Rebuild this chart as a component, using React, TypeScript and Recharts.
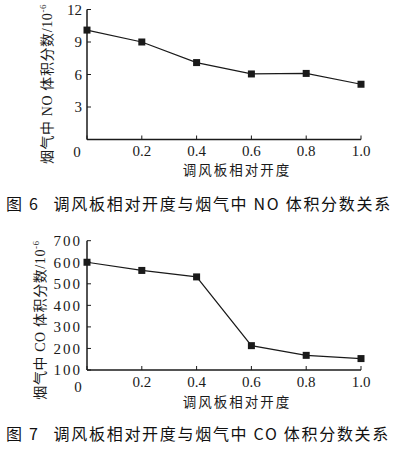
import React from "react";
import { LineChart, Line, XAxis, YAxis } from "recharts";

const openings = [0, 0.2, 0.4, 0.6, 0.8, 1.0];
const noValues = [10.1, 9.0, 7.1, 6.05, 6.1, 5.1];
const coValues = [600, 562, 532, 213, 168, 153];
const xTicks = [0, 0.2, 0.4, 0.6, 0.8, 1.0];
const noTicks = [3, 6, 9, 12];
const coTicks = [100, 200, 300, 400, 500, 600, 700];

const xAxisTitle = "调风板相对开度";
const noAxisTitle = "烟气中 NO 体积分数/10";
const coAxisTitle = "烟气中 CO 体积分数/10";
const caption6 = ["图 6", "调风板相对开度与烟气中 NO 体积分数关系"];
const caption7 = ["图 7", "调风板相对开度与烟气中 CO 体积分数关系"];

const noData = openings.map((x, i) => ({ x, v: noValues[i] }));
const coData = openings.map((x, i) => ({ x, v: coValues[i] }));

const SERIF = '"Liberation Serif", "Noto Sans CJK SC", serif';
const INK = "#1a1a1a";

const makeXTick = (zeroDx: number, zeroDy: number) => (props: any) => {
  const { x, y, payload } = props;
  const v = payload.value;
  return (
    <text
      x={v === 0 ? x + zeroDx : x}
      y={v === 0 ? y + zeroDy : y}
      dy="0.71em"
      textAnchor="middle"
      fontFamily={SERIF}
      fontSize={15}
      fill={INK}
    >
      {v === 0 ? "0" : v.toFixed(1)}
    </text>
  );
};

const makeYTick = (spacing: number) => (props: any) => {
  const { x, y, payload } = props;
  return (
    <text
      x={x}
      y={y}
      dy="0.35em"
      textAnchor="end"
      fontFamily={SERIF}
      fontSize={15}
      letterSpacing={spacing}
      fill={INK}
    >
      {payload.value}
    </text>
  );
};

const SquareDot = (props: any) => {
  const { cx, cy } = props;
  if (cx == null || cy == null) return null;
  return <rect x={cx - 3.5} y={cy - 3.5} width={7} height={7} fill={INK} />;
};

const NoYTick = makeYTick(0);
const CoYTick = makeYTick(2);
const NoXTick = makeXTick(-10, 1);
const CoXTick = makeXTick(-9, 5);

function Panel(props: {
  top: number;
  height: number;
  data: any[];
  domain: [number, number];
  yTicks: number[];
  margin: any;
  YTick: any;
  XTick: any;
  yTitle: string;
  yTitleX: number;
  yTitleY: number;
  xTitleY: number;
}) {
  const { top, height, data, domain, yTicks, margin, YTick, XTick, yTitle, yTitleX, yTitleY, xTitleY } = props;
  return (
    <div style={{ position: "absolute", left: 0, top, width: 393, height }}>
      <LineChart width={393} height={height} data={data} margin={margin}>
        <XAxis
          dataKey="x"
          type="number"
          domain={[0, 1]}
          ticks={xTicks}
          interval={0}
          tick={<XTick />}
          tickSize={-4}
          tickMargin={10}
          height={30}
          axisLine={{ stroke: INK, strokeWidth: 1.5 }}
          tickLine={{ stroke: INK }}
        />
        <YAxis
          type="number"
          domain={domain}
          ticks={yTicks}
          interval={0}
          tick={<YTick />}
          tickSize={-4}
          tickMargin={9}
          width={60}
          allowDataOverflow
          axisLine={{ stroke: INK, strokeWidth: 1.5 }}
          tickLine={{ stroke: INK }}
        />
        <Line
          dataKey="v"
          stroke={INK}
          strokeWidth={1.2}
          dot={<SquareDot />}
          activeDot={false}
          isAnimationActive={false}
        />
      </LineChart>
      <svg
        width={393}
        height={height}
        style={{ position: "absolute", left: 0, top: 0, pointerEvents: "none" }}
      >
        <text
          transform={`translate(${yTitleX},${yTitleY}) rotate(-90)`}
          textAnchor="middle"
          dy="0.35em"
          fontFamily={SERIF}
          fontSize={14}
          letterSpacing={0.6}
          fill={INK}
        >
          {yTitle}
          <tspan fontSize={9} dy={-6}>-6</tspan>
        </text>
        <text
          x={237}
          y={xTitleY}
          dy="0.35em"
          textAnchor="middle"
          fontFamily={SERIF}
          fontSize={13.5}
          letterSpacing={2}
          fill={INK}
        >
          {xAxisTitle}
        </text>
      </svg>
    </div>
  );
}

const captionStyle = (top: number): React.CSSProperties => ({
  position: "absolute",
  left: 6,
  top,
  whiteSpace: "nowrap",
  fontFamily: '"Noto Sans CJK SC", sans-serif',
  fontSize: 16,
  fontWeight: 400,
  letterSpacing: 1.7,
  color: "#111",
  lineHeight: "20px",
});

export default function App() {
  return (
    <div
      style={{
        position: "absolute",
        left: 0,
        top: 0,
        width: 393,
        height: 453,
        background: "#fff",
        overflow: "hidden",
      }}
    >
      <Panel
        top={0}
        height={180}
        data={noData}
        domain={[0, 12]}
        yTicks={noTicks}
        margin={{ top: 9.5, right: 32, bottom: 10.5, left: 27 }}
        YTick={NoYTick}
        XTick={NoXTick}
        yTitle={noAxisTitle}
        yTitleX={47}
        yTitleY={84}
        xTitleY={170}
      />
      <div style={captionStyle(193)}>
        <span>{caption6[0]}</span>
        <span style={{ marginLeft: 14 }}>{caption6[1]}</span>
      </div>
      <Panel
        top={220}
        height={200}
        data={coData}
        domain={[100, 700]}
        yTicks={coTicks}
        margin={{ top: 20.7, right: 32, bottom: 20, left: 27 }}
        YTick={CoYTick}
        XTick={CoXTick}
        yTitle={coAxisTitle}
        yTitleX={40}
        yTitleY={100}
        xTitleY={182}
      />
      <div style={captionStyle(423)}>
        <span>{caption7[0]}</span>
        <span style={{ marginLeft: 14 }}>{caption7[1]}</span>
      </div>
    </div>
  );
}
